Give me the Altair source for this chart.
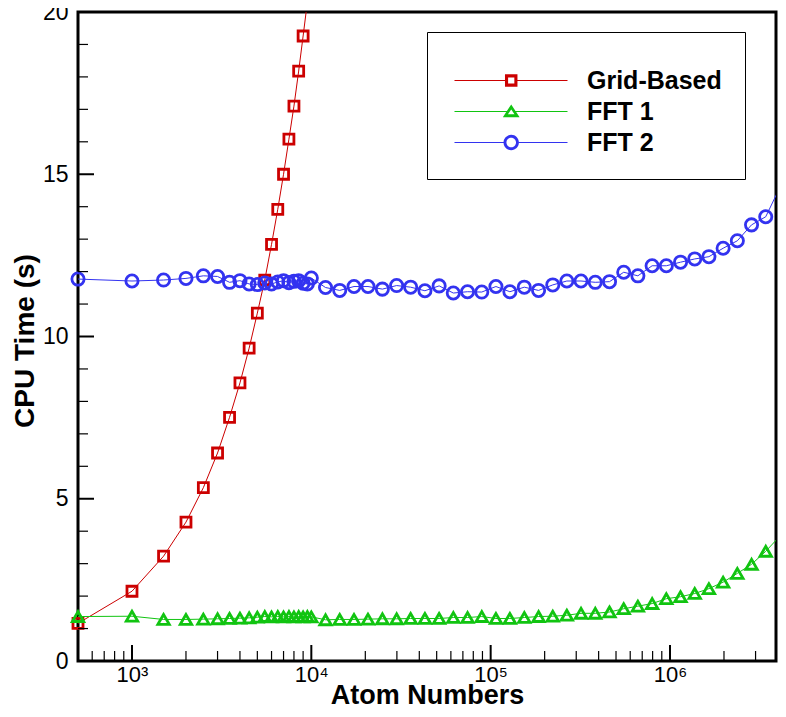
import altair as alt
import pandas as pd

# ---------------- data ----------------
series_names = ["Grid-Based", "FFT 1", "FFT 2"]
series_colors = ["#cc0000", "#11c411", "#3333f0"]

atoms_low = [500, 1000, 1500, 2000, 2500, 3000, 3500, 4000, 4500, 5000,
             5500, 6000, 6500, 7000, 7500, 8000, 8500, 9000, 9500, 10000]
atoms_high = [12000, 14400, 17300, 20700, 24900, 29900, 35800, 43000, 51600, 61900,
              74300, 89200, 107000, 128000, 154000, 185000, 222000, 266000, 319000, 383000,
              460000, 552000, 662000, 795000, 954000, 1145000, 1374000, 1648000, 1978000, 2374000,
              2849000, 3418000, 4102000]

grid_time = [1.16, 2.15, 3.23, 4.28, 5.34, 6.41, 7.51, 8.57, 9.64, 10.72,
             11.74, 12.84, 13.92, 15.00, 16.08, 17.10, 18.18, 19.26, 20.30, 21.40]

fft1_time_low = [1.37, 1.38, 1.28, 1.28, 1.29, 1.30, 1.31, 1.32, 1.33, 1.35,
                 1.37, 1.36, 1.37, 1.36, 1.37, 1.36, 1.37, 1.36, 1.37, 1.36]
fft1_time_high = [1.27, 1.28, 1.28, 1.29, 1.30, 1.30, 1.31, 1.31, 1.31, 1.34,
                  1.34, 1.37, 1.31, 1.31, 1.34, 1.37, 1.38, 1.41, 1.47, 1.47,
                  1.51, 1.61, 1.69, 1.77, 1.92, 1.98, 2.08, 2.23, 2.43, 2.70,
                  2.98, 3.38, 3.85]

fft2_time_low = [11.77, 11.71, 11.74, 11.79, 11.87, 11.85, 11.67, 11.72, 11.62, 11.60,
                 11.65, 11.62, 11.68, 11.72, 11.66, 11.70, 11.72, 11.64, 11.62, 11.80]
fft2_time_high = [11.51, 11.42, 11.54, 11.54, 11.46, 11.57, 11.52, 11.41, 11.56, 11.34,
                  11.38, 11.37, 11.54, 11.38, 11.52, 11.42, 11.59, 11.71, 11.71, 11.67,
                  11.69, 11.98, 11.87, 12.18, 12.18, 12.29, 12.39, 12.46, 12.72, 12.95,
                  13.44, 13.69, 14.60]

x_major_ticks = [1000, 10000, 100000, 1000000]
x_minor_ticks = [500, 600, 700, 800, 900,
                 2000, 3000, 4000, 5000, 6000, 7000, 8000, 9000,
                 20000, 30000, 40000, 50000, 60000, 70000, 80000, 90000,
                 200000, 300000, 400000, 500000, 600000, 700000, 800000, 900000,
                 2000000, 3000000]
y_major_ticks = [0, 5, 10, 15, 20]
y_minor_ticks = [1, 2, 3, 4, 6, 7, 8, 9, 11, 12, 13, 14, 16, 17, 18, 19]

# ---------------- tables ----------------
rows = []
for a, t in zip(atoms_low, grid_time):
    rows.append({"atoms": a, "time": t, "series": "Grid-Based"})
for a, t in zip(atoms_low + atoms_high, fft1_time_low + fft1_time_high):
    rows.append({"atoms": a, "time": t, "series": "FFT 1"})
for a, t in zip(atoms_low + atoms_high, fft2_time_low + fft2_time_high):
    rows.append({"atoms": a, "time": t, "series": "FFT 2"})
df = pd.DataFrame(rows)

FONT = "Liberation Sans"
W, H = 698, 649
X_MAX = 3.9e6

xscale = alt.Scale(type="log", domain=[500, X_MAX], nice=False)
yscale = alt.Scale(domain=[0, 20], nice=False, zero=False)
cscale = alt.Scale(domain=series_names, range=series_colors)

sup = "'10' + (datum.value >= 1e6 ? '\u2076' : datum.value >= 1e5 ? '\u2075' : datum.value >= 1e4 ? '\u2074' : '\u00b3')"

x_axis = alt.Axis(values=x_major_ticks, labelExpr=sup, title="Atom Numbers",
                  grid=False, ticks=False, tickSize=0, domain=False,
                  labelFont=FONT, labelFontSize=22, labelColor="black",
                  labelPadding=20, labelBaseline="alphabetic", labelFlush=False,
                  titleFont=FONT, titleFontSize=27, titleFontWeight="bold", titleColor="black",
                  titleX=W / 2, titleY=42, titleAlign="center", titleBaseline="alphabetic")
y_axis = alt.Axis(values=y_major_ticks, title="CPU Time (s)",
                  grid=False, ticks=False, tickSize=0, domain=False,
                  labelFont=FONT, labelFontSize=23, labelColor="black", labelPadding=10,
                  titleFont=FONT, titleFontSize=28, titleFontWeight="bold", titleColor="black",
                  titleX=-45, titleY=H / 2 + 4, titleAngle=270, titleAlign="center",
                  titleBaseline="alphabetic")


def X(field):
    return alt.X(field, scale=xscale, axis=x_axis)


def Y(field):
    return alt.Y(field, scale=yscale, axis=y_axis)


lines = alt.Chart(df).mark_line(strokeWidth=1, clip=True).encode(
    x=X("atoms:Q"), y=Y("time:Q"),
    color=alt.Color("series:N", scale=cscale, legend=None))

marker_styles = {"Grid-Based": ("square", 100), "FFT 1": ("triangle-up", 130), "FFT 2": ("circle", 150)}
point_layers = []
for name in series_names:
    shp, sz = marker_styles[name]
    point_layers.append(
        alt.Chart(df)
        .transform_filter((alt.datum.series == name) & (alt.datum.atoms <= X_MAX) & (alt.datum.time <= 20))
        .mark_point(shape=shp, size=sz, filled=False, strokeWidth=2.8, opacity=1)
        .encode(x=X("atoms:Q"), y=Y("time:Q"),
                color=alt.Color("series:N", scale=cscale, legend=None)))

# legend glyphs: line + ring marker, all filled, unit = 12 px
sq = ("M-0.667,-0.05H3.54V0.05H-0.667Z M4.58,-0.05H8.75V0.05H4.58Z "
      "M3.54,-0.52H4.58V0.52H3.54Z M3.80,-0.26V0.26H4.32V-0.26Z")
tri = ("M-0.667,-0.05H3.69V0.05H-0.667Z M4.43,-0.05H8.75V0.05H4.43Z "
       "M4.06,-0.58L4.76,0.47L3.36,0.47Z M4.06,-0.171L3.785,0.239L4.335,0.239Z")
circ = ("M-0.667,-0.05H3.42V0.05H-0.667Z M4.70,-0.05H8.75V0.05H4.70Z "
        "M4.70,0A0.64,0.64 0 1,1 3.42,0A0.64,0.64 0 1,1 4.70,0Z "
        "M3.66,0A0.40,0.40 0 1,0 4.46,0A0.40,0.40 0 1,0 3.66,0Z")
legend_paths = [sq, tri, circ]

leg = alt.Legend(orient="none", legendX=349, legendY=20, direction="vertical",
                 title=" ", titleFontSize=9, titlePadding=4,
                 padding=23, rowPadding=5,
                 labelFont=FONT, labelFontSize=25, labelFontWeight="bold", labelColor="black",
                 labelOffset=112, labelLimit=400,
                 symbolSize=576, symbolStrokeWidth=0, symbolOpacity=1,
                 strokeColor="black", fillColor="white")

legend_layer = alt.Chart(df).mark_point(
    filled=True, size=576, strokeWidth=0, opacity=0).encode(
    x=X("atoms:Q"), y=Y("time:Q"),
    color=alt.Color("series:N", scale=cscale, legend=leg),
    shape=alt.Shape("series:N", scale=alt.Scale(domain=series_names, range=legend_paths), legend=leg))

xmaj = alt.Chart(pd.DataFrame({"v": x_major_ticks})).mark_rule(color="black", strokeWidth=2).encode(
    x=X("v:Q"), y=alt.value(H), y2=alt.value(H - 16))
xmin = alt.Chart(pd.DataFrame({"v": x_minor_ticks})).mark_rule(color="black", strokeWidth=1.2).encode(
    x=X("v:Q"), y=alt.value(H), y2=alt.value(H - 10))
ymaj = alt.Chart(pd.DataFrame({"v": y_major_ticks})).mark_rule(color="black", strokeWidth=2).encode(
    y=Y("v:Q"), x=alt.value(0), x2=alt.value(16))
ymin = alt.Chart(pd.DataFrame({"v": y_minor_ticks})).mark_rule(color="black", strokeWidth=1.2).encode(
    y=Y("v:Q"), x=alt.value(0), x2=alt.value(10))

chart = alt.layer(legend_layer, lines, *point_layers, xmaj, xmin, ymaj, ymin).properties(
    width=W, height=H,
    autosize=alt.AutoSizeParams(type="none"),
    padding={"left": 70, "top": 4, "right": 2, "bottom": 48},
).configure(font=FONT).configure_view(stroke="black", strokeWidth=3)

chart.save("out.html", embed_options={"renderer": "svg", "actions": False})
